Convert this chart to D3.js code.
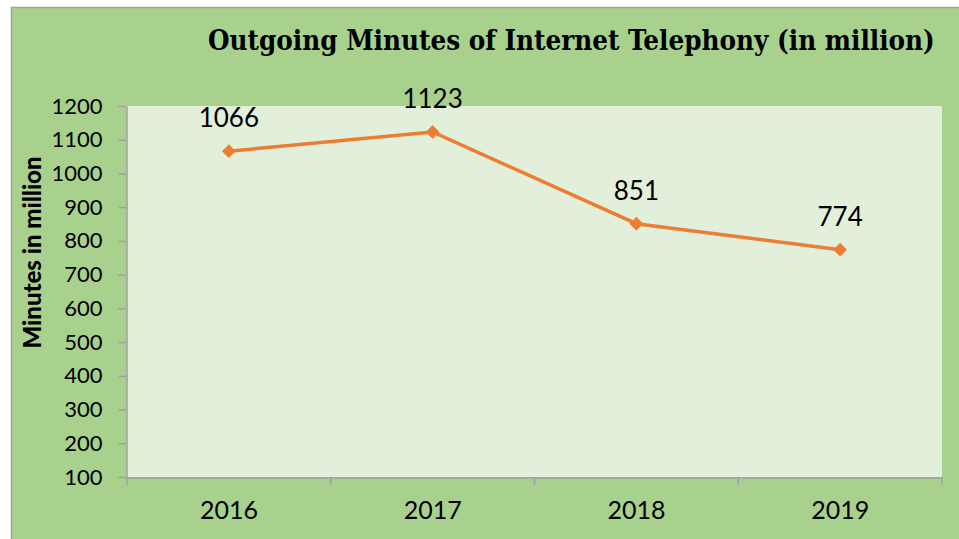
<!DOCTYPE html>
<html>
<head>
<meta charset="utf-8">
<script src="https://cdn.jsdelivr.net/npm/d3@7"></script>
<style>
  html, body { margin: 0; padding: 0; background: #ffffff; }
  svg { display: block; }
</style>
</head>
<body>
<div id="chart"></div>
<script>
const years = ["2016", "2017", "2018", "2019"];
const minutes = [1066, 1123, 851, 774];
const yTicks = [100, 200, 300, 400, 500, 600, 700, 800, 900, 1000, 1100, 1200];

const W = 959, H = 539;
const plot = { left: 127, top: 106, right: 942, bottom: 477 };
const labelFont = "Lato, 'Open Sans', sans-serif";

const svg = d3.select("#chart").append("svg")
    .attr("width", W)
    .attr("height", H);

// outer chart area
svg.append("rect")
    .attr("x", 11).attr("y", 7)
    .attr("width", W - 11).attr("height", H - 7)
    .attr("fill", "#a9d18e");
svg.append("line")
    .attr("x1", 11).attr("x2", W).attr("y1", 7.5).attr("y2", 7.5)
    .attr("stroke", "#a0a0a0").attr("stroke-width", 1.5);
svg.append("line")
    .attr("x1", 11.5).attr("x2", 11.5).attr("y1", 7).attr("y2", H)
    .attr("stroke", "#a0a0a0").attr("stroke-width", 1.5);

// plot area
svg.append("rect")
    .attr("x", plot.left).attr("y", plot.top)
    .attr("width", plot.right - plot.left).attr("height", plot.bottom - plot.top)
    .attr("fill", "#e2efda");

const x = d3.scaleBand()
    .domain(years)
    .range([plot.left, plot.right]);

const y = d3.scaleLinear()
    .domain([100, 1200])
    .range([plot.bottom, plot.top]);

// y axis
const yAxis = svg.append("g")
    .attr("transform", `translate(${plot.left - 0.5},0)`)
    .call(d3.axisLeft(y).tickValues(yTicks).tickFormat(d3.format("d"))
        .tickSize(8).tickPadding(16).tickSizeOuter(0));
yAxis.select(".domain").attr("stroke", "#a0a0a0").attr("stroke-width", 1.5);
yAxis.selectAll(".tick line").attr("stroke", "#a0a0a0").attr("stroke-width", 1.5);
yAxis.selectAll(".tick text")
    .style("font-family", labelFont)
    .style("font-size", "22px")
    .attr("fill", "#000");

// x axis
const xAxis = svg.append("g")
    .attr("transform", `translate(0,${plot.bottom + 0.5})`)
    .call(d3.axisBottom(x).tickSize(0).tickPadding(24));
xAxis.select(".domain").attr("stroke", "#a0a0a0").attr("stroke-width", 1.5);
xAxis.selectAll(".tick text")
    .style("font-family", labelFont)
    .style("font-size", "25px")
    .attr("fill", "#000");

// category boundary ticks
const bounds = years.map(d => x(d)).concat([x(years[years.length - 1]) + x.bandwidth()]);
svg.append("g").selectAll("line")
    .data(bounds)
    .join("line")
    .attr("x1", d => d).attr("x2", d => d)
    .attr("y1", plot.bottom).attr("y2", plot.bottom + 8)
    .attr("stroke", "#a0a0a0").attr("stroke-width", 1.5);

// line
const cx = d => x(d) + x.bandwidth() / 2;
const line = d3.line()
    .x((d, i) => cx(years[i]))
    .y(d => y(d));

svg.append("path")
    .datum(minutes)
    .attr("fill", "none")
    .attr("stroke", "#ed7d31")
    .attr("stroke-width", 3.5)
    .attr("d", line);

svg.append("g").selectAll("path")
    .data(minutes)
    .join("path")
    .attr("transform", (d, i) => `translate(${cx(years[i])},${y(d)})`)
    .attr("d", d3.symbol().type(d3.symbolDiamond2).size(120))
    .attr("fill", "#ed7d31");

// data labels
svg.append("g").selectAll("text")
    .data(minutes)
    .join("text")
    .attr("x", (d, i) => cx(years[i]))
    .attr("y", d => y(d) - 24)
    .attr("text-anchor", "middle")
    .style("font-family", labelFont)
    .style("font-size", "26px")
    .attr("fill", "#000")
    .text(d => d);

// shrink a text's font size until it fits the given width
const fitText = (sel, maxWidth, startSize) => {
    sel.style("font-size", startSize + "px");
    const w = sel.node().getComputedTextLength();
    if (w > maxWidth) sel.style("font-size", (startSize * maxWidth / w) + "px");
    return sel;
};

// title
const title = svg.append("text")
    .attr("x", 208)
    .attr("y", 50)
    .style("font-family", "'DejaVu Serif Condensed', 'DejaVu Serif', 'Liberation Serif', serif")
    .style("font-weight", "bold")
    .attr("fill", "#000")
    .text("Outgoing Minutes of Internet Telephony (in million)");
fitText(title, 727, 29);

// y axis title
const yTitle = svg.append("text")
    .attr("transform", `translate(41,${(152 + 353) / 2}) rotate(-90)`)
    .attr("text-anchor", "middle")
    .style("font-family", labelFont)
    .style("font-weight", "900")
    .attr("fill", "#000")
    .text("Minutes in million");
fitText(yTitle, 201, 24);
</script>
</body>
</html>
